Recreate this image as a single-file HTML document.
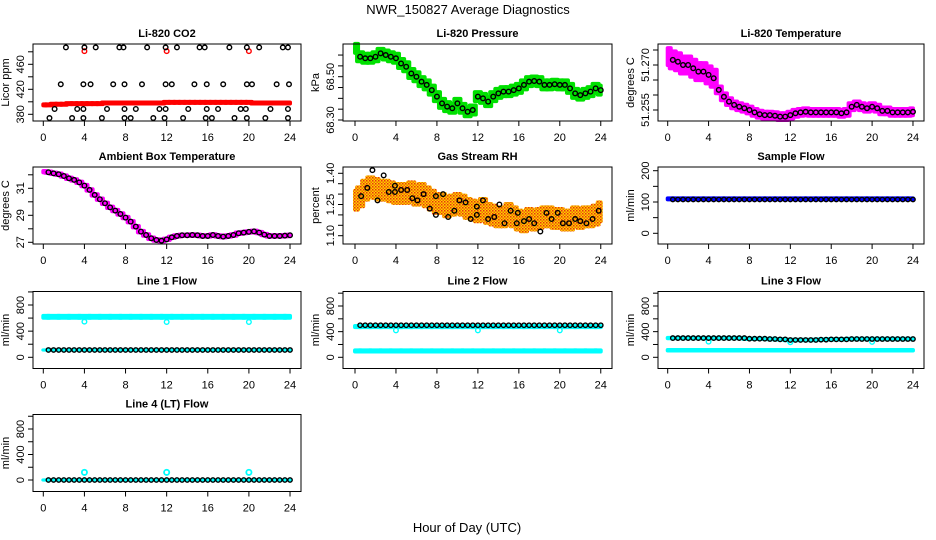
<!DOCTYPE html>
<html><head><meta charset="utf-8">
<style>
html,body{margin:0;padding:0;background:#fff;}
svg{display:block;font-family:"Liberation Sans",sans-serif;}
</style></head>
<body>
<svg id="chart" width="936" height="540" viewBox="0 0 936 540">
<text x="468" y="14" text-anchor="middle" font-size="13">NWR_150827  Average Diagnostics</text>
<text x="467" y="532" text-anchor="middle" font-size="13">Hour of Day (UTC)</text>
</svg>
<script>
// ---- data ----
const xTicks = [0,4,8,12,16,20,24];
const co2Red = [395,395,396,396,396,397,397,397,397,397,397,397,398,398,398,398,398,398,398,398,398,398,398,398,399,399,399,399,399,399,399,399,399,399,399,399,399,399,399,399,399,398,398,398,398,398,398,398,398];
const co2RedOutX = [4,12,20];
const co2RedOutY = [481,481,481];
const co2BlackX = [2.2,4.0,5.1,7.4,7.8,10.1,11.9,13.0,15.2,15.7,18.1,19.8,21.0,23.3,23.8,
 1.7,3.9,4.6,6.8,7.9,9.6,11.9,12.5,14.7,15.9,17.5,19.8,20.3,22.7,23.9,
 1.1,3.3,3.9,6.2,7.9,9.0,11.3,11.9,14.1,15.9,17.0,19.2,19.7,22.1,23.8,
 0.6,2.8,3.9,5.7,7.9,8.5,10.7,11.8,13.6,15.8,16.4,18.6,19.8,21.6,23.8];
const co2BlackY = [487,487,487,487,487,487,487,487,487,487,487,487,487,487,487,
 428,428,428,428,428,428,428,428,428,428,428,428,428,428,428,
 388.5,388.5,388.5,388.5,388.5,388.5,388.5,388.5,388.5,388.5,388.5,388.5,388.5,388.5,388.5,
 374,374,374,374,374,374,374,374,374,374,374,374,374,374,374];
const pressGreen = [68.631,68.592,68.585,68.585,68.592,68.608,68.600,68.592,68.585,68.561,68.546,68.515,68.500,68.477,68.462,68.438,68.408,68.377,68.362,68.354,68.377,68.354,68.338,68.346,68.408,68.400,68.385,68.408,68.423,68.431,68.431,68.438,68.446,68.462,68.477,68.480,68.477,68.462,68.462,68.465,68.462,68.462,68.446,68.423,68.415,68.423,68.431,68.446,68.438];
const tempMag = [51.2728,51.2717,51.2711,51.2700,51.2700,51.2689,51.2678,51.2678,51.2667,51.2656,51.2617,51.2594,51.2578,51.2567,51.2561,51.2556,51.2550,51.2542,51.2536,51.2533,51.2533,51.2531,51.2528,51.2528,51.2533,51.2539,51.2542,51.2544,51.2542,51.2542,51.2542,51.2542,51.2542,51.2542,51.2539,51.2542,51.2561,51.2567,51.2561,51.2556,51.2561,51.2556,51.2547,51.2547,51.2542,51.2542,51.2542,51.2542,51.2544];
const ambMag = [32.23,32.19,32.11,32.04,31.91,31.74,31.62,31.44,31.20,30.88,30.51,30.19,29.89,29.59,29.35,29.10,28.83,28.53,28.16,27.79,27.54,27.30,27.17,27.12,27.22,27.37,27.47,27.52,27.52,27.54,27.52,27.47,27.47,27.54,27.47,27.42,27.47,27.54,27.67,27.72,27.77,27.81,27.72,27.57,27.47,27.47,27.47,27.49,27.52];
const rhOrange = [1.271,1.287,1.319,1.335,1.327,1.319,1.319,1.311,1.303,1.303,1.303,1.311,1.295,1.303,1.287,1.271,1.255,1.255,1.239,1.247,1.255,1.247,1.231,1.223,1.215,1.231,1.207,1.199,1.191,1.191,1.207,1.191,1.175,1.167,1.183,1.175,1.183,1.191,1.191,1.183,1.183,1.175,1.175,1.191,1.183,1.191,1.191,1.199,1.215];
const rhBlackX = [0.6,1.2,1.7,2.2,2.8,3.3,3.9,3.9,4.5,5.1,5.6,6.1,6.7,7.3,7.9,7.9,8.6,9.1,9.7,10.2,10.8,11.3,11.9,11.9,12.5,13.0,13.6,14.1,14.6,15.2,15.8,15.9,16.5,17.0,17.5,18.1,18.7,19.2,19.8,20.3,20.9,21.5,22.0,22.6,23.2,23.8];
const rhBlackY = [1.29,1.33,1.415,1.27,1.39,1.31,1.31,1.34,1.32,1.32,1.28,1.27,1.30,1.23,1.29,1.20,1.30,1.19,1.22,1.27,1.26,1.18,1.20,1.24,1.27,1.18,1.19,1.25,1.16,1.22,1.16,1.21,1.17,1.18,1.16,1.12,1.21,1.18,1.21,1.16,1.16,1.18,1.17,1.16,1.18,1.22];
const sampleBlue = [110,110,110,110,110,110,110,110,110,110,110,110,110,110,110,110,110,110,110,110,110,110,110,110,110];
const sampleBlack = [108,108,108,108,108,108,108,108,108,108,108,108,108,108,108,108,108,108,108,108,108,108,108,108,108];
const line1CyanHi = [620,620,620,620,620,620,620,620,620,620,620,620,620,620,620,620,620,620,620,620,620,620,620,620,620];
const line1CyanLo = [112,112,112,112,112,112,112,112,112,112,112,112,112,112,112,112,112,112,112,112,112,112,112,112,112];
const line1Black = [112,112,112,112,112,112,112,112,112,112,112,112,112,112,112,112,112,112,112,112,112,112,112,112,112];
const line1DipY = [545,540,540];
const line2CyanHi = [480,480,480,480,480,480,480,480,480,480,480,480,480,480,480,480,480,480,480,480,480,480,480,480,480];
const line2CyanLo = [100,100,100,100,100,100,100,100,100,100,100,100,100,100,100,100,100,100,100,100,100,100,100,100,100];
const line2Black = [500,500,500,500,500,500,500,500,500,500,500,500,500,500,500,500,500,500,500,500,500,500,500,500,500];
const line2DipY = [420,420,420];
const line3CyanHi = [300,300,300,300,300,300,300,300,290,290,285,280,270,270,270,275,280,280,285,285,285,285,285,285,285];
const line3CyanLo = [110,110,110,110,110,110,110,110,110,110,110,110,110,110,110,110,110,110,110,110,110,110,110,110,110];
const line3Black = [300,300,300,300,300,300,300,300,290,290,285,280,270,270,270,275,280,280,285,285,285,285,285,285,285];
const line3DipY = [245,235,240];
const line4Cyan = [0,0,0,0,0,0,0,0,0,0,0,0,0,0,0,0,0,0,0,0,0,0,0,0,0];
const line4Black = [0,0,0,0,0,0,0,0,0,0,0,0,0,0,0,0,0,0,0,0,0,0,0,0,0];
const line4OutY = [120,120,120];
const dipX = [4,12,20];

// ---- layout ----
const NS = "http://www.w3.org/2000/svg";
const svg = document.getElementById('chart');
const BOXL = [33,343,658], BOXR = [301,612,924], X0 = [43.3,355,667.7], XPU = [10.28,10.24,10.22];
const ROWT = [44,167,291.5,414.5], BOXH = 77;

function el(tag, attrs, parent){
  const e = document.createElementNS(NS, tag);
  for (const k in attrs) e.setAttribute(k, attrs[k]);
  (parent||svg).appendChild(e);
  return e;
}

function panel(o){
  const g = el('g', {});
  
  
  const L = BOXL[o.col], R = BOXR[o.col], T = ROWT[o.row], B = T + BOXH;
  const xs = t => X0[o.col] + t * XPU[o.col];
  const ys = v => o.p1 + (v - o.v1) * (o.p2 - o.p1) / (o.v2 - o.v1);
  const plot = el('g', {}, g);
  
  
  const title = el('text', {x:(L+R)/2, y:T-7, 'text-anchor':'middle', 'font-size':11, 'font-weight':'bold'}, g);
  title.textContent = o.title;
  
  
  const box = el('rect', {x:L, y:T, width:R-L, height:BOXH, fill:'none', stroke:'#000', 'stroke-width':1}, g);
  
  
  const xa = el('g', {}, g);
  
  
  el('line', {x1:xs(xTicks[0]), x2:xs(xTicks[xTicks.length-1]), y1:B, y2:B, stroke:'#000'}, xa);
  xTicks.forEach(t => {
    el('line', {x1:xs(t), x2:xs(t), y1:B, y2:B+5, stroke:'#000'}, xa);
    const tx = el('text', {x:xs(t), y:B+20, 'text-anchor':'middle', 'font-size':11}, xa);
    tx.textContent = t;
    
    
  });
  const ya = el('g', {}, g);
  
  
  o.yticks.forEach(v => { el('line', {x1:L-5, x2:L, y1:ys(v), y2:ys(v), stroke:'#000'}, ya); });
  o.ylabels.forEach(v => {
    const tx = el('text', {x:L-9, y:ys(v), 'text-anchor':'middle', 'font-size':11, transform:`rotate(-90 ${L-9} ${ys(v)})`}, ya);
    tx.textContent = o.fmt ? o.fmt(v) : v;
    
    
  });
  const yl = el('text', {x:L-24, y:(T+B)/2, 'text-anchor':'middle', 'font-size':11, transform:`rotate(-90 ${L-24} ${(T+B)/2})`}, g);
  yl.textContent = o.ylab;
  
  
  return {xs, ys, plot, L, R, T, B};
}

function band(p, vals, step, spread, color){
  vals.forEach((v,i) => {
    const t = i*step;
    const s = typeof spread === 'function' ? spread(t) : spread;
    const x1 = p.xs(Math.max(0,t - step*0.6)), x2 = p.xs(Math.min(24,t + step*0.6));
    const y1 = p.ys(v + s), y2 = p.ys(v - s);
    const r = el('rect', {x:x1-2, y:Math.min(y1,y2), width:x2-x1+4, height:Math.abs(y2-y1), rx:2, fill:color}, p.plot);
    
    
  });
}
function pts(p, xsArr, ysArr, color, r, sw){
  xsArr.forEach((t,i) => {
    const c = el('circle', {cx:p.xs(t), cy:p.ys(ysArr[i]), r:r||2.3, fill:'none', stroke:color, 'stroke-width':sw||1.4}, p.plot);
    
    
  });
}
function blackStep(p, vals, step){
  vals.forEach((v,i) => {
    [0.5, 0.0].forEach(off => {
      const t = i*step + off;
      if (t <= 0.3 || t > 24) return;
      const c = el('circle', {cx:p.xs(t), cy:p.ys(v), r:2.2, fill:'none', stroke:'#000', 'stroke-width':1.4}, p.plot);
      
      
    });
  });
}
function blackHalf(p, vals, step){
  vals.forEach((v,i) => {
    const t = i*step;
    if (t < 0.4) return;
    const c = el('circle', {cx:p.xs(t), cy:p.ys(v), r:2.3, fill:'none', stroke:'#000', 'stroke-width':1.4}, p.plot);
    
    
  });
}

const defs = el('defs', {});
const pat = el('pattern', {id:'stip', width:3, height:3, patternUnits:'userSpaceOnUse'}, defs);
el('rect', {width:3, height:3, fill:'#ffd000'}, pat);
el('rect', {width:1.5, height:1.5, fill:'#e83010'}, pat);
el('rect', {x:1.5, y:1.5, width:1.5, height:1.5, fill:'#f07000'}, pat);

// CO2
let p = panel({name:'co2-panel', col:0, row:0, title:'Li-820 CO2', ylab:'Licor ppm', v1:380, p1:114.3, v2:460, p2:64.3, yticks:[380,400,420,440,460,480], ylabels:[380,420,460]});
band(p, co2Red, 0.5, 4, '#ff0000');
pts(p, co2RedOutX, co2RedOutY, '#ff0000');
pts(p, co2BlackX, co2BlackY, '#000');

// Pressure
p = panel({name:'pressure-panel', col:1, row:0, title:'Li-820 Pressure', ylab:'kPa', v1:68.30, p1:120, v2:68.50, p2:76.7, yticks:[68.30,68.35,68.40,68.45,68.50,68.55,68.60], ylabels:[68.30,68.50], fmt:v=>v.toFixed(2)});
band(p, pressGreen, 0.5, 0.03, '#00e000');
blackHalf(p, pressGreen, 0.5);

// Temperature
p = panel({name:'temperature-panel', col:2, row:0, title:'Li-820 Temperature', ylab:'degrees C', v1:51.255, p1:110, v2:51.270, p2:65, yticks:[51.255,51.260,51.265,51.270,51.275], ylabels:[51.255,51.270], fmt:v=>v.toFixed(3)});
band(p, tempMag, 0.5, t => t < 5 ? 0.0035 : 0.0018, '#ff00ff');
blackHalf(p, tempMag, 0.5);

// Ambient
p = panel({name:'ambient-temp-panel', col:0, row:1, title:'Ambient Box Temperature', ylab:'degrees C', v1:27, p1:242.3, v2:31, p2:188.3, yticks:[27,28,29,30,31,32], ylabels:[27,29,31]});
band(p, ambMag, 0.5, 0.2, '#ff00ff');
blackHalf(p, ambMag, 0.5);

// RH
p = panel({name:'rh-panel', col:1, row:1, title:'Gas Stream RH', ylab:'percent', v1:1.10, p1:235.7, v2:1.40, p2:173.3, yticks:[1.10,1.15,1.20,1.25,1.30,1.35,1.40], ylabels:[1.10,1.25,1.40], fmt:v=>v.toFixed(2)});
band(p, rhOrange, 0.5, 0.055, 'url(#stip)');
pts(p, rhBlackX, rhBlackY, '#000');

// Sample flow
p = panel({name:'sample-flow-panel', col:2, row:1, title:'Sample Flow', ylab:'ml/min', v1:0, p1:233.3, v2:200, p2:170.7, yticks:[0,50,100,150,200], ylabels:[0,100,200]});
band(p, sampleBlue, 1, 8, '#0000ff');
blackStep(p, sampleBlack, 1);

const flowTicks = [0,200,400,600,800,1000], flowLabels = [0,400,800];
// Line 1
p = panel({name:'line1-flow-panel', col:0, row:2, title:'Line 1 Flow', ylab:'ml/min', v1:0, p1:357.3, v2:800, p2:305, yticks:flowTicks, ylabels:flowLabels});
band(p, line1CyanHi, 1, 45, '#00ffff');
band(p, line1CyanLo, 1, 25, '#00ffff');
pts(p, dipX, line1DipY, '#00ffff');
blackStep(p, line1Black, 1);

// Line 2
p = panel({name:'line2-flow-panel', col:1, row:2, title:'Line 2 Flow', ylab:'ml/min', v1:0, p1:357.3, v2:800, p2:306, yticks:flowTicks, ylabels:flowLabels});
band(p, line2CyanHi, 1, 40, '#00ffff');
band(p, line2CyanLo, 1, 40, '#00ffff');
pts(p, dipX, line2DipY, '#00ffff');
blackStep(p, line2Black, 1);

// Line 3
p = panel({name:'line3-flow-panel', col:2, row:2, title:'Line 3 Flow', ylab:'ml/min', v1:0, p1:357.3, v2:800, p2:306, yticks:flowTicks, ylabels:flowLabels});
band(p, line3CyanHi, 1, 35, '#00ffff');
band(p, line3CyanLo, 1, 35, '#00ffff');
pts(p, dipX, line3DipY, '#00ffff');
blackStep(p, line3Black, 1);

// Line 4
p = panel({name:'line4-flow-panel', col:0, row:3, title:'Line 4 (LT) Flow', ylab:'ml/min', v1:0, p1:480, v2:800, p2:429, yticks:flowTicks, ylabels:flowLabels});
band(p, line4Cyan, 1, 25, '#00ffff');
pts(p, dipX, line4OutY, '#00ffff', 2.6, 1.8);
blackStep(p, line4Black, 1);
</script>
</body></html>
